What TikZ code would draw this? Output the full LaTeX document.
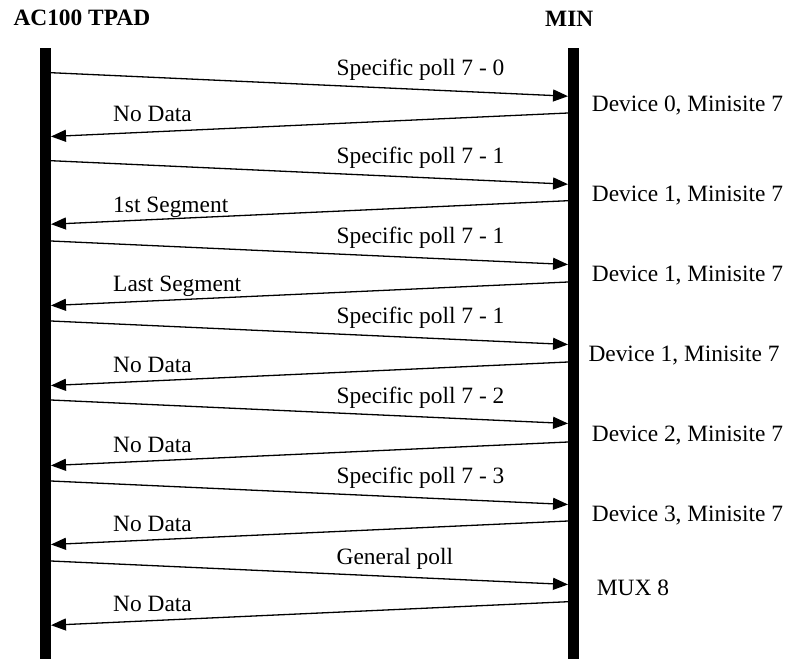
\documentclass[tikz,border=0pt]{standalone}
\usepackage{fontspec}
\setmainfont{Liberation Serif}
\usetikzlibrary{arrows.meta}
\begin{document}
\begin{tikzpicture}[x=1pt, y=-1pt,
  font=\fontsize{23.4}{28}\selectfont,
  lifeline/.style={fill=black, draw=none, inner sep=0pt, minimum width=11pt,
                   minimum height=611pt, anchor=north west},
  msg/.style={line width=1.3pt, -{Triangle[length=15pt, width=12pt]}},
  lbl/.style={anchor=base west, inner sep=0pt},
  heading/.style={anchor=base west, inner sep=0pt,
                  font=\fontsize{23.4}{28}\selectfont\bfseries}]
\useasboundingbox (0,0) rectangle (791,659);

% participants
\node[heading] (tpadname) at (13.3,25) {AC100 TPAD};
\node[heading] (minname) at (545,26.7) {MIN};
\node[lifeline] (tpad) at (40,48) {};
\node[lifeline] (min) at (568,48) {};

% polls: TPAD -> MIN
\foreach \i/\ly/\ty/\txt in {
    0/72.7/75/{Specific poll 7 - 0},
    1/160.7/163.5/{Specific poll 7 - 1},
    2/241/243.5/{Specific poll 7 - 1},
    3/321/323.5/{Specific poll 7 - 1},
    4/400/403.5/{Specific poll 7 - 2},
    5/481/483.5/{Specific poll 7 - 3},
    6/561/564/{General poll}} {
  \coordinate (ps\i) at (51,\ly);
  \coordinate (pe\i) at (568,\ly+23.5);
  \draw[msg] (ps\i) -- (pe\i);
  \node[lbl] (pl\i) at (336.5,\ty) {\txt};
}

% replies: MIN -> TPAD
\foreach \i/\ry/\ty/\txt in {
    0/113/121.7/{No Data},
    1/200.7/212/{1st Segment},
    2/282/291/{Last Segment},
    3/362/372/{No Data},
    4/442/452/{No Data},
    5/521/531/{No Data},
    6/601.7/611.7/{No Data}} {
  \coordinate (rs\i) at (568,\ry);
  \coordinate (re\i) at (51,\ry+23.5);
  \draw[msg] (rs\i) -- (re\i);
  \node[lbl] (rl\i) at (113,\ty) {\txt};
}

% responding units
\node[lbl] (d0) at (591.7,111.7) {Device 0, Minisite 7};
\node[lbl] (d1) at (591.7,201) {Device 1, Minisite 7};
\node[lbl] (d2) at (591.7,281.7) {Device 1, Minisite 7};
\node[lbl] (d3) at (588.3,361.7) {Device 1, Minisite 7};
\node[lbl] (d4) at (591.7,441.5) {Device 2, Minisite 7};
\node[lbl] (d5) at (591.7,521.5) {Device 3, Minisite 7};
\node[lbl] (d6) at (596.7,595) {MUX 8};
\end{tikzpicture}
\end{document}
